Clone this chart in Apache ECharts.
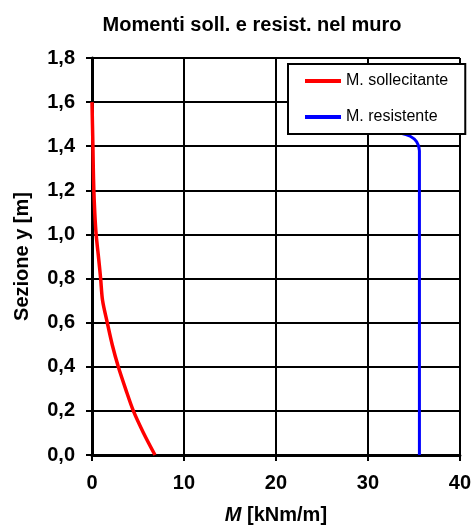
<!DOCTYPE html>
<html><head><meta charset="utf-8">
<script src="https://cdn.jsdelivr.net/npm/echarts@6/dist/echarts.min.js"></script>
<style>html,body{margin:0;padding:0;background:#fff}#c{width:474px;height:530px}</style>
</head><body><div id="c"></div>
<script>
const titleText = 'Momenti soll. e resist. nel muro';
const seriesNames = ['M. sollecitante', 'M. resistente'];
// [M (kNm/m), y (m)]
const mSoll = [[6.85,0],[5.6,0.1],[4.5,0.2],[3.65,0.3],[2.86,0.4],[2.2,0.5],[1.66,0.6],[1.15,0.7],[0.94,0.8],[0.7,0.9],[0.45,1.0],[0.3,1.1],[0.2,1.2],[0.14,1.3],[0.1,1.4],[0.05,1.5],[0,1.6]];
const mRes = [[35.6,0],[35.6,0.5],[35.6,1.0],[35.6,1.38],[35.3,1.42],[34.6,1.445],[33.5,1.46],[32,1.47],[30,1.48]];
const xTicks = [0,10,20,30,40];
const yTicks = [0,0.2,0.4,0.6,0.8,1.0,1.2,1.4,1.6,1.8];

const chart = echarts.init(document.getElementById('c'));
const F = 'Liberation Sans, Arial, sans-serif';
chart.setOption({
  animation:false,
  title:{text:titleText,left:247,textAlign:'center',top:10,textStyle:{fontFamily:F,fontWeight:'bold',fontSize:20,color:'#000'}},
  grid:{left:92,right:14,top:58,bottom:75},
  legend:{data:seriesNames,orient:'vertical',left:288,top:64,
    padding:[9,17,9,17],itemGap:20,itemWidth:36,itemHeight:4,
    backgroundColor:'#fff',borderColor:'#000',borderWidth:2,borderRadius:0,z:10,
    icon:'rect',textStyle:{fontFamily:F,fontSize:16,color:'#000'}},
  xAxis:{type:'value',min:xTicks[0],max:xTicks[xTicks.length-1],interval:10,
    name:'{i|M} [kNm/m]',nameLocation:'middle',nameGap:50,
    nameTextStyle:{fontFamily:F,fontWeight:'bold',fontSize:20,color:'#000',
      rich:{i:{fontFamily:F,fontWeight:'bold',fontStyle:'italic',fontSize:20,color:'#000'}}},
    axisLine:{show:true,lineStyle:{color:'#000',width:3}},
    axisTick:{show:true,length:6,lineStyle:{color:'#000',width:2}},
    axisLabel:{fontFamily:F,fontWeight:'bold',fontSize:20,color:'#000',margin:18},
    splitLine:{show:true,lineStyle:{color:'#000',width:2}}},
  yAxis:{type:'value',min:0,max:1.8,interval:0.2,
    name:'Sezione y [m]',nameLocation:'middle',nameGap:60,
    nameTextStyle:{fontFamily:F,fontWeight:'bold',fontSize:20,color:'#000'},
    axisLine:{show:true,lineStyle:{color:'#000',width:3}},
    axisTick:{show:true,length:6,lineStyle:{color:'#000',width:2}},
    axisLabel:{fontFamily:F,fontWeight:'bold',fontSize:20,color:'#000',margin:17,
      formatter:v=>v.toFixed(1).replace('.',',')},
    splitLine:{show:true,lineStyle:{color:'#000',width:2}}},
  series:[
    {name:seriesNames[0],type:'line',data:mSoll,showSymbol:false,symbol:'none',smooth:0.3,
      lineStyle:{color:'#ff0000',width:3.5},itemStyle:{color:'#ff0000'},z:3},
    {name:seriesNames[1],type:'line',data:mRes,showSymbol:false,symbol:'none',smooth:0.3,
      lineStyle:{color:'#0000ff',width:3},itemStyle:{color:'#0000ff'},z:3}
  ]
});
</script></body></html>
